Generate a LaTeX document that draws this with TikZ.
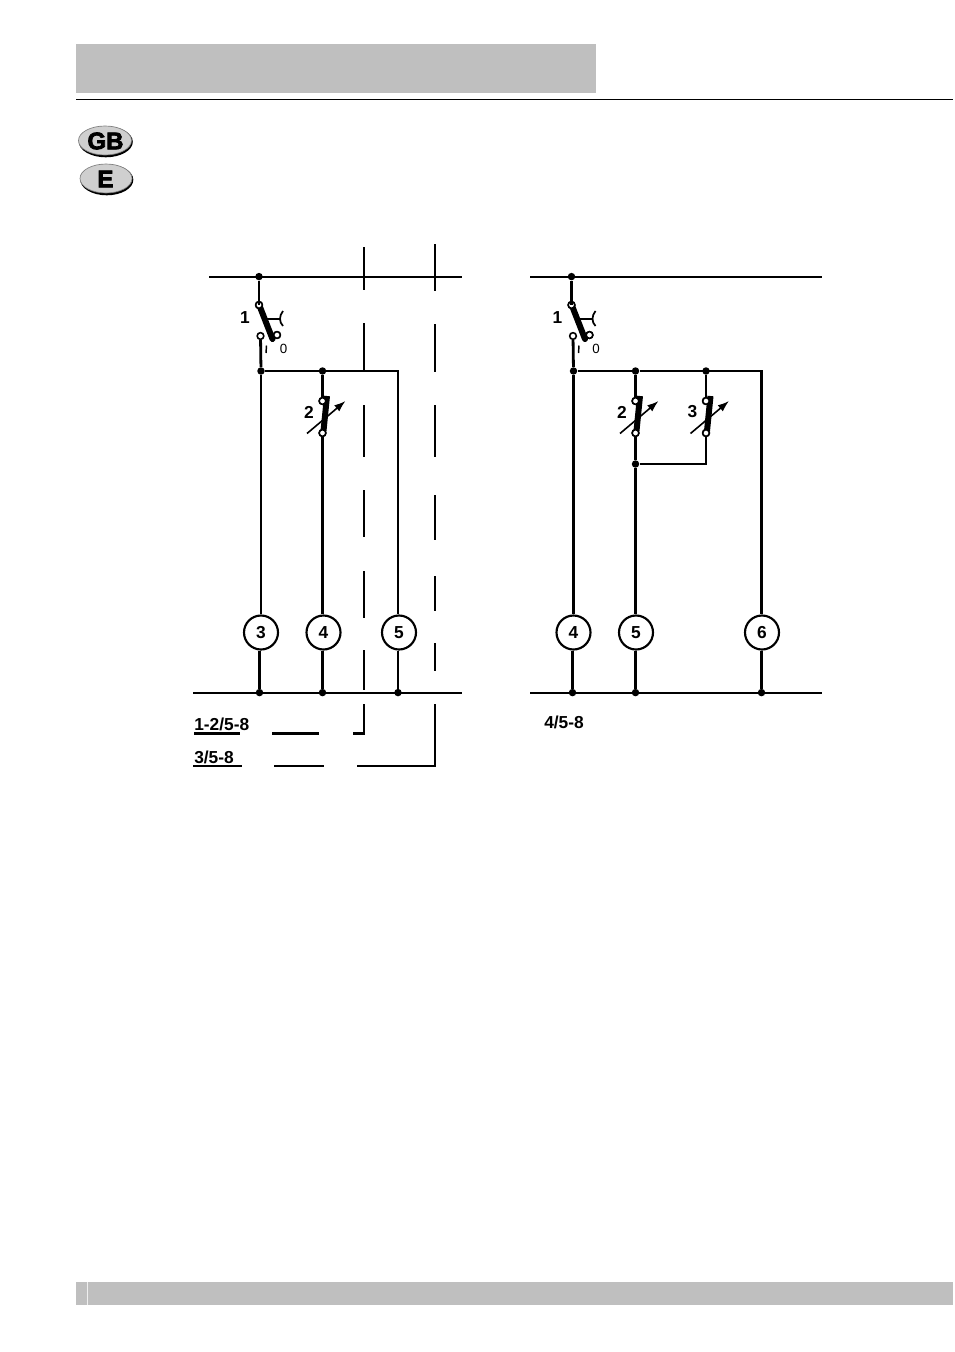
\documentclass[tikz,border=0pt]{standalone}
\usepackage{fontspec}
\setmainfont{Liberation Sans}
\newfontfamily\heavyfont[FakeBold=3]{Liberation Sans}
\usetikzlibrary{arrows.meta}
\definecolor{hdr}{HTML}{BFBFBF}
\definecolor{oval}{HTML}{CFCFCF}
\tikzset{
  x=0.75pt,y=-0.75pt,
  bus/.style={line width=1.35pt,black},
  wire/.style={line width=2.1pt,black},
  lightwire/.style={line width=1.8pt,black},
  dashline/.style={line width=1.8pt,black},
  lever/.style={line width=4.5pt,black},
  dot/.style={circle,fill=black,inner sep=0pt,minimum size=5.6pt},
  contact/.style={circle,draw=black,fill=white,line width=1.2pt,inner sep=0pt,minimum size=5pt},
  bulb/.style={circle,draw=black,fill=white,line width=1.6pt,inner sep=0pt,minimum size=25.5pt,font=\bfseries\fontsize{13}{13}\selectfont},
  lab/.style={inner sep=0pt,font=\bfseries\fontsize{13}{13}\selectfont},
  smalllab/.style={inner sep=0pt,font=\fontsize{10}{10}\selectfont},
  band/.style={fill=hdr,draw=none},
}
\newcommand{\mainsw}[3]{% prefix, x offset, label
  \begin{scope}[xshift=#2*0.75pt]
    \node[contact] (#1a) at (259,305) {};
    \node[contact] (#1b) at (277,335) {};
    \node[contact] (#1c) at (260.5,336) {};
    \coordinate (#1e) at (272.5,339);
    \coordinate (#1h) at (267,319);
    \coordinate (#1g) at (280,319);
    \draw[lever,line cap=round] ([shift={(1,2)}]#1a.center) -- (#1e);
    \draw[line width=1.3pt] (#1h) -- (#1g);
    \draw[line width=1.3pt] (283,311) .. controls (279,316) and (279,322) .. (283,326);
    \node[contact] at (#1a) {};
    \node[contact] at (#1b) {};
    \node[lab] (#1l) at (245,318) {#3};
    \draw[line width=1.1pt] (266.5,345.5) -- (266,353);
    \node[smalllab] (#1z) at (283.5,349) {0};
  \end{scope}
}
\newcommand{\adjsw}[3]{% prefix, x, label
  \node[contact] (#1a) at (#2,401) {};
  \node[contact] (#1b) at (#2,433) {};
  \draw[lever] (#2+4.5,396) -- (#2+1,431);
  \node[contact] at (#1a) {};
  \node[contact] at (#1b) {};
  \draw[line width=1.2pt,-{Latex[length=8.5pt,width=6pt]}] (#2-15.5,433.5) -- (#2+23,401);
  \node[lab] (#1l) at (#2-13.5,412) {#3};
}
\begin{document}
\begin{tikzpicture}
\useasboundingbox (0,0) rectangle (954,1352);
% page furniture
\fill[band] (76,44) rectangle (596,93);
\draw[line width=0.9pt] (76,99.5) -- (953,99.5);
\fill[band] (76,1282) rectangle (953,1305);
\fill[white!75!hdr] (86.5,1282) rectangle (88,1305);
% flags
\fill[black] (105.8,141.8) ellipse [x radius=27,y radius=15.5];
\fill[oval,draw=gray,line width=0.5pt] (105,140.5) ellipse [x radius=26.5,y radius=14.5];
\node[inner sep=0pt] (gb) at (105.5,141) {\heavyfont\bfseries\fontsize{18}{18}\selectfont GB};
\fill[black] (106.8,179.8) ellipse [x radius=26.5,y radius=15.5];
\fill[oval,draw=gray,line width=0.5pt] (106,178.5) ellipse [x radius=26,y radius=14.5];
\node[inner sep=0pt] (e) at (105.5,179) {\heavyfont\bfseries\fontsize{18}{18}\selectfont E};
% LEFT diagram
\coordinate (lt1) at (209,276.6); \coordinate (lt2) at (462,276.6);
\coordinate (lb1) at (193,692.6); \coordinate (lb2) at (462,692.6);
\draw[bus] (lt1) -- (lt2);
\draw[bus] (lb1) -- (lb2);
\node[dot] (ldt) at (259,276.6) {};
\node[dot] (lj1) at (261,371) {};
\node[dot] (lj2) at (322.5,371) {};
\coordinate (lcorner) at (398,371);
\node[dot] (ld3) at (259.5,692.6) {};
\node[dot] (ld4) at (322.5,692.6) {};
\node[dot] (ld5) at (398,692.6) {};
\node[bulb] (lb3) at (261,632.5) {3};
\node[bulb] (lb4) at (323.5,632.5) {4};
\node[bulb] (lb5) at (399,632.5) {5};
\mainsw{ls}{0}{1}
\adjsw{lp}{322.5}{2}
\draw[lightwire] (ldt) -- (lsa -| ldt);
\draw[wire] (lsc) -- (lj1);
\draw[wire] (lj1) -- (lb3.north -| lj1);
\draw[lightwire] (lb3.south -| ld3) -- (ld3);
\draw[wire] (lj1) -- (lcorner) -- (lcorner |- lb5.north);
\draw[wire] (lb5.south -| ld5) -- (ld5);
\draw[lightwire] (lj2) -- (lpa);
\draw[lightwire] (lpb) -- (lb4.north -| lpb);
\draw[wire] (lb4.south -| ld4) -- (ld4);
% dashed control lines
\foreach \a/\b in {247/290,323/371,405/457,490/537,571/618,650/690}
  \draw[dashline] (364,\a) -- (364,\b);
\foreach \a/\b in {244/291,324/372,405/457,495/540,576/611,643/671}
  \draw[dashline] (435,\a) -- (435,\b);
\draw[dashline] (364,704) -- (364,733.5) -- (353,733.5);
\draw[dashline] (435,704) -- (435,766) -- (357,766);
\draw[dashline] (272,733.5) -- (319,733.5);
\draw[dashline] (274,766) -- (324,766);
\draw[dashline] (194,733.5) -- (240,733.5);
\draw[dashline] (193,766) -- (242,766);
\node[lab,anchor=base west] (l1) at (194,730) {1-2/5-8};
\node[lab,anchor=base west] (l2) at (194,763) {3/5-8};
% RIGHT diagram
\coordinate (rt1) at (530,276.6); \coordinate (rt2) at (822,276.6);
\coordinate (rb1) at (530,692.6); \coordinate (rb2) at (822,692.6);
\draw[bus] (rt1) -- (rt2);
\draw[bus] (rb1) -- (rb2);
\node[dot] (rdt) at (571.5,276.6) {};
\node[dot] (rj1) at (573.5,371) {};
\node[dot] (rj2) at (635.5,371) {};
\node[dot] (rj3) at (706,371) {};
\coordinate (rcorner) at (761.5,371);
\node[dot] (rj4) at (635.5,464) {};
\coordinate (rk) at (706,464);
\node[dot] (rd4) at (572.5,692.6) {};
\node[dot] (rd5) at (635.5,692.6) {};
\node[dot] (rd6) at (761.5,692.6) {};
\node[bulb] (rb4) at (573.5,632.5) {4};
\node[bulb] (rb5) at (636,632.5) {5};
\node[bulb] (rb6) at (762,632.5) {6};
\mainsw{rs}{312.5}{1}
\adjsw{rp}{635.5}{2}
\adjsw{rq}{706}{3}
\draw[lightwire] (rdt) -- (rsa -| rdt);
\draw[wire] (rsc) -- (rj1);
\draw[wire] (rj1) -- (rb4.north -| rj1);
\draw[lightwire] (rb4.south -| rd4) -- (rd4);
\draw[wire] (rj1) -- (rj2);
\draw[lightwire] (rj2) -- (rcorner) -- (rcorner |- rb6.north);
\draw[lightwire] (rb6.south -| rd6) -- (rd6);
\draw[lightwire] (rj2) -- (rpa);
\draw[lightwire] (rj3) -- (rqa);
\draw[lightwire] (rpb) -- (rj4);
\draw[wire] (rj4) -- (rb5.north -| rj4);
\draw[wire] (rb5.south -| rd5) -- (rd5);
\draw[line width=1.35pt] (rj4) -- (rk) -- (rqb);
\node[lab,anchor=base west] (l3) at (544,728.5) {4/5-8};
\end{tikzpicture}
\end{document}
